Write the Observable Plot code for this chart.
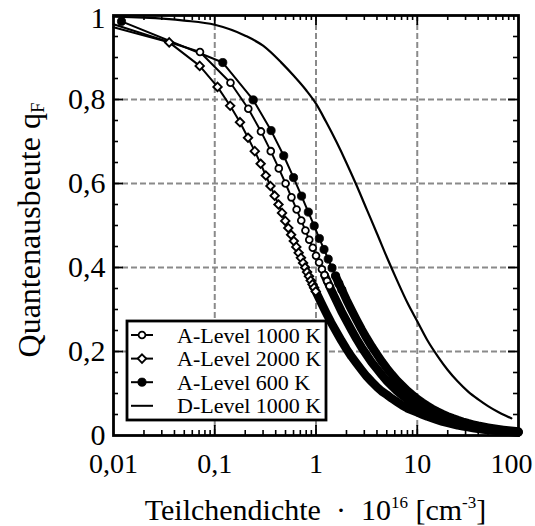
<!DOCTYPE html>
<html><head><meta charset="utf-8">
<script src="https://cdn.jsdelivr.net/npm/d3@7"></script>
<script src="https://cdn.jsdelivr.net/npm/@observablehq/plot@0.6"></script>
<style>
body{margin:0;background:#fff;}
#wrap{position:relative;width:535px;height:526px;}
</style></head><body><div id="wrap"></div>
<script>
// ---------- data ----------
const xTicks = [0.01, 0.1, 1, 10, 100];
const xTickLabels = ["0,01", "0,1", "1", "10", "100"];
const yTicks = [0, 0.2, 0.4, 0.6, 0.8, 1];
const yTickLabels = ["0", "0,2", "0,4", "0,6", "0,8", "1"];
const xGrid = [0.1, 1, 10];
const yGrid = [0.2, 0.4, 0.6, 0.8];
const xMinor = [0.02,0.03,0.04,0.05,0.06,0.07,0.08,0.09, 0.2,0.3,0.4,0.5,0.6,0.7,0.8,0.9, 2,3,4,5,6,7,8,9, 20,30,40,50,60,70,80,90];
const yMinor = [0.05,0.1,0.15,0.25,0.3,0.35,0.45,0.5,0.55,0.65,0.7,0.75,0.85,0.9,0.95];

const seriesNames = ["A-Level 1000 K", "A-Level 2000 K", "A-Level 600 K", "D-Level 1000 K"];

const a1000X = [0.01, 0.0715, 0.143, 0.2145, 0.286, 0.3575, 0.429, 0.5005, 0.572, 0.6435, 0.715, 0.7865, 0.858, 0.9295, 1.001, 1.0725, 1.144, 1.2155, 1.287, 1.3585, 1.41, 1.58, 1.78, 2, 2.24, 2.51, 2.82, 3.16, 3.55, 3.98, 4.47, 5.01, 5.62, 6.31, 7.08, 7.94, 8.91, 10, 11.2, 12.6, 14.1, 15.8, 17.8, 20, 22.4, 25.1, 28.2, 31.6, 35.5, 39.8, 44.7, 50.1, 56.2, 63.1, 70.8, 79.4, 89.1, 100];
const a1000Q = [0.979, 0.913, 0.840, 0.778, 0.724, 0.677, 0.636, 0.600, 0.567, 0.538, 0.512, 0.488, 0.466, 0.447, 0.428, 0.412, 0.396, 0.382, 0.368, 0.356, 0.347, 0.322, 0.296, 0.273, 0.251, 0.230, 0.210, 0.192, 0.174, 0.159, 0.144, 0.130, 0.118, 0.106, 0.0958, 0.0863, 0.0776, 0.0698, 0.0628, 0.0562, 0.0505, 0.0453, 0.0404, 0.0361, 0.0324, 0.0290, 0.0259, 0.0232, 0.0207, 0.0185, 0.0165, 0.0147, 0.0132, 0.0117, 0.0105, 0.0094, 0.0083, 0.0074];

const a2000X = [0.01, 0.0355, 0.071, 0.1065, 0.142, 0.1775, 0.213, 0.2485, 0.284, 0.3195, 0.355, 0.3905, 0.426, 0.4615, 0.497, 0.5325, 0.568, 0.6035, 0.639, 0.6745, 0.71, 0.7455, 0.781, 0.8165, 0.852, 0.8875, 0.923, 0.9585, 0.994, 1.12, 1.26, 1.41, 1.58, 1.78, 2, 2.24, 2.51, 2.82, 3.16, 3.55, 3.98, 4.47, 5.01, 5.62, 6.31, 7.08, 7.94, 8.91, 10, 11.2, 12.6, 14.1, 15.8, 17.8, 20, 22.4, 25.1, 28.2, 31.6, 35.5, 39.8, 44.7, 50.1, 56.2, 63.1, 70.8, 79.4, 89.1, 100];
const a2000Q = [0.972, 0.936, 0.880, 0.830, 0.785, 0.746, 0.709, 0.677, 0.647, 0.619, 0.594, 0.571, 0.550, 0.530, 0.511, 0.494, 0.478, 0.463, 0.449, 0.435, 0.423, 0.411, 0.400, 0.389, 0.379, 0.369, 0.360, 0.352, 0.343, 0.317, 0.292, 0.269, 0.248, 0.226, 0.206, 0.188, 0.172, 0.156, 0.141, 0.128, 0.116, 0.105, 0.097, 0.088, 0.080, 0.072, 0.065, 0.060, 0.055, 0.050, 0.045, 0.041, 0.037, 0.033, 0.030, 0.027, 0.024, 0.022, 0.020, 0.018, 0.016, 0.0145, 0.013, 0.012, 0.011, 0.010, 0.009, 0.0082, 0.0075];

const a600X = [0.012, 0.12, 0.24, 0.36, 0.48, 0.6, 0.72, 0.84, 0.96, 1.08, 1.2, 1.32, 1.44, 1.56, 1.68, 1.8, 2, 2.24, 2.51, 2.82, 3.16, 3.55, 3.98, 4.47, 5.01, 5.62, 6.31, 7.08, 7.94, 8.91, 10, 11.2, 12.6, 14.1, 15.8, 17.8, 20, 22.4, 25.1, 28.2, 31.6, 35.5, 39.8, 44.7, 50.1, 56.2, 63.1, 70.8, 79.4, 89.1, 100];
const a600Q = [0.986, 0.888, 0.799, 0.726, 0.666, 0.614, 0.570, 0.532, 0.499, 0.469, 0.443, 0.420, 0.399, 0.380, 0.362, 0.347, 0.323, 0.299, 0.276, 0.253, 0.232, 0.212, 0.194, 0.176, 0.160, 0.145, 0.131, 0.119, 0.107, 0.0968, 0.0872, 0.0786, 0.0705, 0.0634, 0.0570, 0.0509, 0.0456, 0.0409, 0.0367, 0.0328, 0.0293, 0.0262, 0.0234, 0.0209, 0.0187, 0.0167, 0.0149, 0.0133, 0.0119, 0.0106, 0.0095];

const d1000X = [0.01, 0.02, 0.05, 0.1, 0.2, 0.3, 0.45, 0.6, 0.8, 1, 1.25, 1.6, 2, 2.5, 3.2, 4, 5, 6.3, 8, 10, 12.5, 16, 20, 25, 32, 40, 50, 63, 75, 85];
const d1000Q = [0.997, 0.995, 0.988, 0.978, 0.952, 0.928, 0.889, 0.857, 0.822, 0.790, 0.748, 0.698, 0.649, 0.597, 0.536, 0.481, 0.425, 0.370, 0.316, 0.272, 0.228, 0.188, 0.156, 0.129, 0.104, 0.086, 0.070, 0.056, 0.047, 0.041];

// ---------- layout / style ----------
const W = 535, H = 526, mL = 113, mR = 17, mT = 15, mB = 91;
const pw = W - mL - mR, ph = H - mT - mB;
const FONT = "'Liberation Serif', 'Times New Roman', serif";
const style = {
  a1000: {symbol: "circle", r: 3.4, fill: "white", sw: 1.8, markerIdx: [1, 19], bandFrom: 17},
  a2000: {symbol: "diamond2", r: 3.8, fill: "white", sw: 1.9, markerIdx: [1, 28], bandFrom: 26},
  a600:  {symbol: "circle", r: 4.1, fill: "black", sw: 0.8, markerIdx: [0, 15], bandFrom: 13}
};

const zip = (xs, qs, s) => xs.slice(0, Math.min(xs.length, qs.length)).map((x, i) => ({x, q: qs[i], s, i}));
const A1000 = zip(a1000X, a1000Q, seriesNames[0]);
const A2000 = zip(a2000X, a2000Q, seriesNames[1]);
const A600 = zip(a600X, a600Q, seriesNames[2]);
const D1000 = zip(d1000X, d1000Q, seriesNames[3]);

function seriesMarks(data, st) {
  const band = data.filter(d => d.i >= st.bandFrom);
  const pts = data.filter(d => d.i >= st.markerIdx[0] && d.i <= st.markerIdx[1]);
  return [
    Plot.line(band, {x: "x", y: "q", stroke: "#000", strokeWidth: 8.5, strokeLinecap: "round", strokeLinejoin: "round"}),
    Plot.line(data, {x: "x", y: "q", stroke: "#000", strokeWidth: 2}),
    Plot.dot(pts, {x: "x", y: "q", symbol: () => st.symbol, r: st.r, fill: st.fill, stroke: "#000", strokeWidth: st.sw})
  ];
}

const lblX = d => xTickLabels[xTicks.indexOf(d)];
const lblY = d => yTickLabels[yTicks.indexOf(d)];

const chart = Plot.plot({
  width: W, height: H,
  marginLeft: mL, marginRight: mR, marginTop: mT, marginBottom: mB,
  style: {fontFamily: FONT, background: "#fff", color: "#000", overflow: "visible"},
  x: {type: "log", domain: [0.01, 100]},
  y: {domain: [0, 1]},
  marks: [
    Plot.ruleX(xGrid, {x: d => d, stroke: "#8a8a8a", strokeWidth: 2, strokeDasharray: "6,3"}),
    Plot.ruleY(yGrid, {y: d => d, stroke: "#8a8a8a", strokeWidth: 2, strokeDasharray: "6,3"}),
    Plot.line(D1000, {x: "x", y: "q", stroke: "#000", strokeWidth: 2.2, curve: "monotone-x"}),
    ...seriesMarks(A600, style.a600),
    ...seriesMarks(A1000, style.a1000),
    ...seriesMarks(A2000, style.a2000),
    // inward ticks
    Plot.tickX(xGrid, {x: d => d, insetTop: ph - 10, stroke: "#000", strokeWidth: 1.8}),
    Plot.tickX(xGrid, {x: d => d, insetBottom: ph - 10, stroke: "#000", strokeWidth: 1.8}),
    Plot.tickX(xMinor, {x: d => d, insetTop: ph - 5, stroke: "#000", strokeWidth: 1.6}),
    Plot.tickX(xMinor, {x: d => d, insetBottom: ph - 5, stroke: "#000", strokeWidth: 1.6}),
    Plot.tickY(yGrid, {y: d => d, insetRight: pw - 10, stroke: "#000", strokeWidth: 1.8}),
    Plot.tickY(yGrid, {y: d => d, insetLeft: pw - 10, stroke: "#000", strokeWidth: 1.8}),
    Plot.tickY(yMinor, {y: d => d, insetRight: pw - 5, stroke: "#000", strokeWidth: 1.6}),
    Plot.tickY(yMinor, {y: d => d, insetLeft: pw - 5, stroke: "#000", strokeWidth: 1.6}),
    Plot.frame({stroke: "#000", strokeWidth: 2.8}),
    Plot.axisX(xTicks.slice(0, 4), {tickSize: 0, tickPadding: 18, tickFormat: lblX, fontSize: 28, label: null}),
    Plot.axisX(xTicks.slice(4), {tickSize: 0, tickPadding: 18, tickFormat: lblX, fontSize: 28, label: null, dx: -7}),
    Plot.axisY(yTicks.slice(0, 5), {tickSize: 0, tickPadding: 8, tickFormat: lblY, fontSize: 30, label: null}),
    Plot.axisY(yTicks.slice(5), {tickSize: 0, tickPadding: 8, tickFormat: lblY, fontSize: 30, label: null, dy: 3})
  ]
});

const svg = d3.select(chart);
svg.selectAll("text").attr("fill", "#000");

// x title with superscripts
const xt = svg.append("text").attr("x", mL + pw / 2).attr("y", 520).attr("text-anchor", "middle")
  .attr("font-family", FONT).attr("font-size", 30).attr("fill", "#000");
xt.append("tspan").text("Teilchendichte \u00A0\u00B7\u00A0 10");
xt.append("tspan").attr("font-size", 17).attr("dy", -12).text("16");
xt.append("tspan").attr("dy", 12).text(" [cm");
xt.append("tspan").attr("font-size", 17).attr("dy", -12).text("-3");
xt.append("tspan").attr("dy", 12).text("]");

// y title with subscript
const yt = svg.append("text").attr("transform", "translate(40,230) rotate(-90)").attr("text-anchor", "middle")
  .attr("font-family", FONT).attr("font-size", 32).attr("fill", "#000");
yt.append("tspan").text("Quantenausbeute q");
yt.append("tspan").attr("font-size", 19).attr("dy", 4).text("F");

// legend (inside plot area)
const lg = svg.append("g").attr("font-family", FONT).attr("font-size", 22).attr("text-anchor", "start");
lg.append("rect").attr("x", 127).attr("y", 321).attr("width", 199).attr("height", 99)
  .attr("fill", "#fff").attr("stroke", "#000").attr("stroke-width", 2.8);
const legendItems = [
  {name: seriesNames[0], st: style.a1000},
  {name: seriesNames[1], st: style.a2000},
  {name: seriesNames[2], st: style.a600},
  {name: seriesNames[3], st: null}
];
const symMap = {circle: d3.symbolCircle, diamond2: d3.symbolDiamond2};
legendItems.forEach((it, k) => {
  const cy = 335 + k * 23.6;
  lg.append("line").attr("x1", 131).attr("x2", 153).attr("y1", cy).attr("y2", cy)
    .attr("stroke", "#000").attr("stroke-width", 2);
  if (it.st) {
    lg.append("path").attr("transform", `translate(142,${cy})`)
      .attr("d", d3.symbol(symMap[it.st.symbol], Math.PI * it.st.r * it.st.r)())
      .attr("fill", it.st.fill).attr("stroke", "#000").attr("stroke-width", it.st.sw);
  }
  lg.append("text").attr("x", 177).attr("y", cy + 7.5).attr("text-anchor", "start").attr("fill", "#000").text(it.name);
});

document.getElementById("wrap").appendChild(chart);
</script></body></html>
